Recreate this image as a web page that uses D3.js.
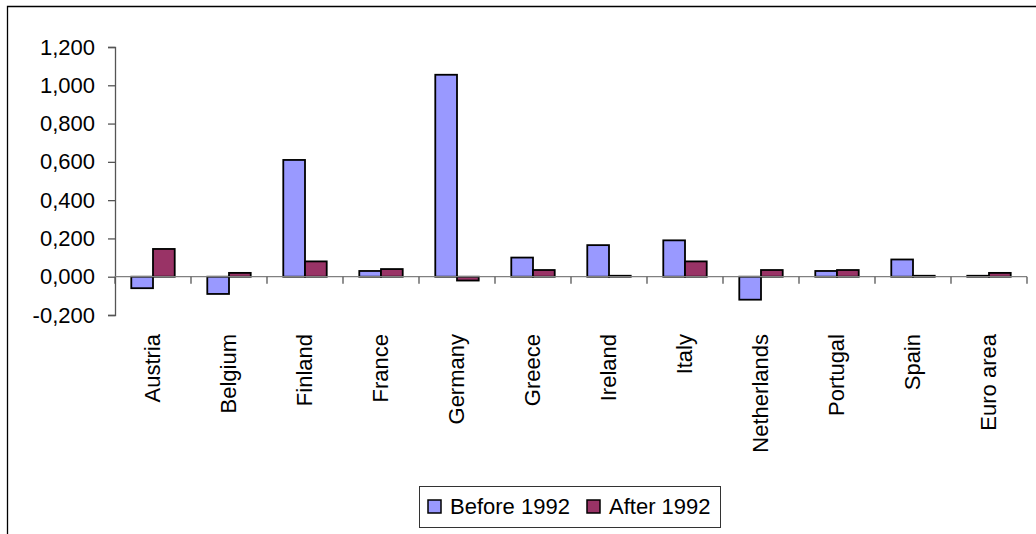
<!DOCTYPE html>
<html>
<head>
<meta charset="utf-8">
<script src="https://cdn.jsdelivr.net/npm/d3@7"></script>
<style>
  html, body { margin: 0; padding: 0; background: #fff; }
  svg { display: block; font-family: "Liberation Sans", Arial, sans-serif; }
</style>
</head>
<body>
<svg id="chart" width="1036" height="534"></svg>
<script>
// Categories and series values
const categories = ["Austria", "Belgium", "Finland", "France", "Germany", "Greece",
  "Ireland", "Italy", "Netherlands", "Portugal", "Spain", "Euro area"];
const seriesNames = ["Before 1992", "After 1992"];
const before1992 = [-0.06, -0.09, 0.61, 0.03, 1.055, 0.10, 0.165, 0.19, -0.12, 0.03, 0.09, 0.005];
const after1992 = [0.145, 0.02, 0.08, 0.04, -0.02, 0.035, 0.005, 0.08, 0.035, 0.035, 0.005, 0.02];
const yTicks = [-0.2, 0, 0.2, 0.4, 0.6, 0.8, 1.0, 1.2];
const seriesColors = ["#9999FF", "#993366"];

const FONT_SIZE = 22;
const svg = d3.select("#chart");

// Chart area frame (only top and left edges fall inside the view)
svg.append("path")
  .attr("d", "M7.5,534 V6.5 H1036")
  .attr("fill", "none")
  .attr("stroke", "#000")
  .attr("stroke-width", 1.3);

const left = 115, right = 1027;
const y = d3.scaleLinear().domain([-0.2, 1.2]).range([315, 47]);
const x0 = d3.scaleBand().domain(categories).range([left, right]).paddingInner(0).paddingOuter(0);
const x1 = d3.scaleBand().domain(seriesNames).range([0, x0.bandwidth()])
  .paddingInner(0).paddingOuter(0.75);

const locale = d3.formatLocale({ decimal: ",", thousands: ".", grouping: [3], currency: ["", ""], minus: "-" });
const fmt = locale.format(".3f");

// Y axis
const yAxis = svg.append("g")
  .attr("transform", `translate(${left},0)`)
  .call(d3.axisLeft(y).tickValues(yTicks).tickFormat(fmt).tickSize(7).tickPadding(13));
yAxis.select(".domain").attr("stroke", "#555").attr("stroke-width", 1.3);
yAxis.selectAll(".tick line").attr("stroke", "#555").attr("stroke-width", 1.3);
yAxis.selectAll(".tick text")
  .attr("font-size", FONT_SIZE)
  .attr("fill", "#000")
  .attr("font-family", "'Liberation Sans', Arial, sans-serif");

// Bars
const rows = categories.map((c, i) => ({ cat: c, vals: [before1992[i], after1992[i]] }));
const groups = svg.append("g").selectAll("g")
  .data(rows)
  .join("g")
  .attr("transform", d => `translate(${x0(d.cat)},0)`);

groups.selectAll("rect")
  .data(d => d.vals.map((v, k) => ({ series: seriesNames[k], k, v })))
  .join("rect")
  .attr("x", d => x1(d.series))
  .attr("width", x1.bandwidth())
  .attr("y", d => y(Math.max(0, d.v)))
  .attr("height", d => Math.abs(y(d.v) - y(0)))
  .attr("fill", d => seriesColors[d.k])
  .attr("stroke", "#000")
  .attr("stroke-width", 1.8);

// Category axis along zero
const zeroY = y(0);
const xAxisG = svg.append("g");
xAxisG.append("line")
  .attr("x1", left).attr("x2", right)
  .attr("y1", zeroY).attr("y2", zeroY)
  .attr("stroke", "#808080").attr("stroke-width", 1.3);
const boundaries = categories.map(c => x0(c)).concat([right]);
xAxisG.selectAll("line.tk")
  .data(boundaries)
  .join("line")
  .attr("class", "tk")
  .attr("x1", d => d).attr("x2", d => d)
  .attr("y1", zeroY).attr("y2", zeroY + 7)
  .attr("stroke", "#555").attr("stroke-width", 1.3);

// Rotated category labels
svg.append("g").selectAll("text")
  .data(categories)
  .join("text")
  .attr("transform", d => `translate(${x0(d) + x0.bandwidth() / 2 + 7},334) rotate(-90)`)
  .attr("text-anchor", "end")
  .attr("font-size", FONT_SIZE)
  .attr("fill", "#000")
  .text(d => d);

// Legend
const legend = svg.append("g");
legend.append("rect")
  .attr("x", 419.5).attr("y", 486.5)
  .attr("width", 301).attr("height", 41)
  .attr("fill", "#fff")
  .attr("stroke", "#333").attr("stroke-width", 1);
const legendItems = [
  { name: seriesNames[0], color: seriesColors[0], sx: 428, tx: 450 },
  { name: seriesNames[1], color: seriesColors[1], sx: 587, tx: 609 }
];
legendItems.forEach(it => {
  legend.append("rect")
    .attr("x", it.sx).attr("y", 500)
    .attr("width", 13).attr("height", 13)
    .attr("fill", it.color)
    .attr("stroke", "#000").attr("stroke-width", 1.5);
  legend.append("text")
    .attr("x", it.tx).attr("y", 514)
    .attr("font-size", FONT_SIZE)
    .attr("fill", "#000")
    .text(it.name);
});
</script>
</body>
</html>
